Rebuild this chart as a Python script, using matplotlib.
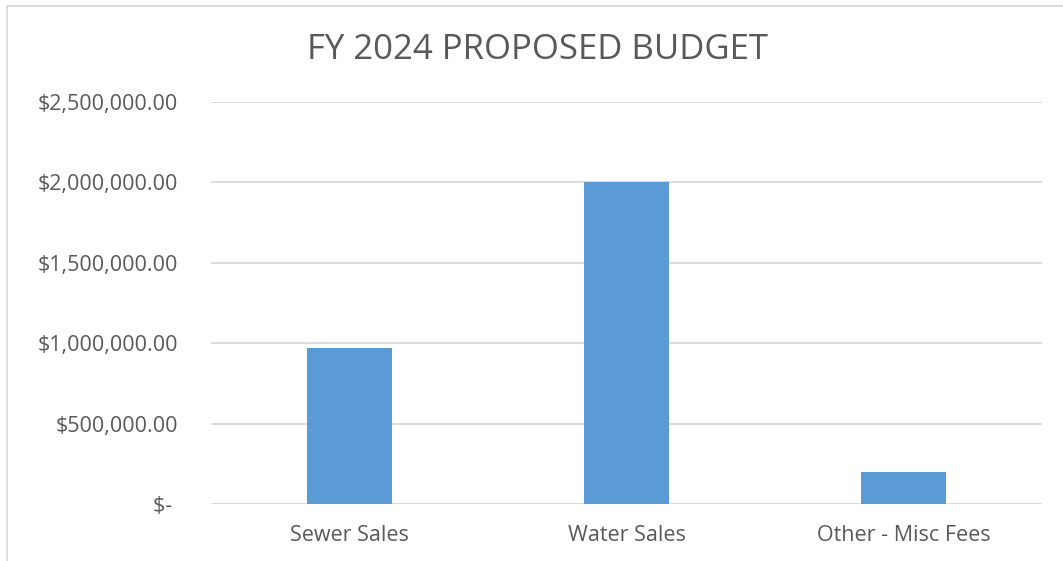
import matplotlib.pyplot as plt
from matplotlib.patches import Rectangle
from matplotlib.ticker import FuncFormatter

categories = ["Sewer Sales", "Water Sales", "Other - Misc Fees"]
budget = [968000, 2000000, 197000]
y_ticks = [0, 500000, 1000000, 1500000, 2000000, 2500000]

TEXT = "#595959"
GRID = "#d9d9d9"
BAR = "#5B9BD5"

plt.rcParams["font.family"] = ["Open Sans", "DejaVu Sans"]

fig = plt.figure(figsize=(10.63, 5.61), dpi=100)
ax = fig.add_axes([211 / 1063, 1 - 504 / 561, (1042 - 211) / 1063, (504 - 102) / 561])

x = range(len(categories))
ax.bar(x, budget, width=0.31, color=BAR, zorder=3)
ax.set_xlim(-0.5, len(categories) - 0.5)
ax.set_ylim(0, 2500000)
ax.set_yticks(y_ticks)


def money(v, _):
    if v == 0:
        return "$- "
    return f"${v:,.2f}"


ax.yaxis.set_major_formatter(FuncFormatter(money))
ax.set_xticks(list(x))
ax.set_xticklabels(categories)
ax.tick_params(axis="both", length=0, labelsize=15.5, colors=TEXT)
ax.tick_params(axis="y", pad=24)
ax.tick_params(axis="x", pad=15)
ax.grid(axis="y", color=GRID, lw=1.3, zorder=0)
for s in ax.spines.values():
    s.set_visible(False)

fig.text(0.506, 1 - 50 / 561, "FY 2024 PROPOSED BUDGET", ha="center", va="center",
         fontsize=25, color=TEXT)

# chart frame like the spreadsheet export
fig.patches.append(Rectangle((7 / 1063, -0.1), 1.2, 1.1 - 6 / 561,
                             transform=fig.transFigure, fill=False,
                             edgecolor=GRID, lw=1.3))

fig.savefig("out.png", dpi=100)
